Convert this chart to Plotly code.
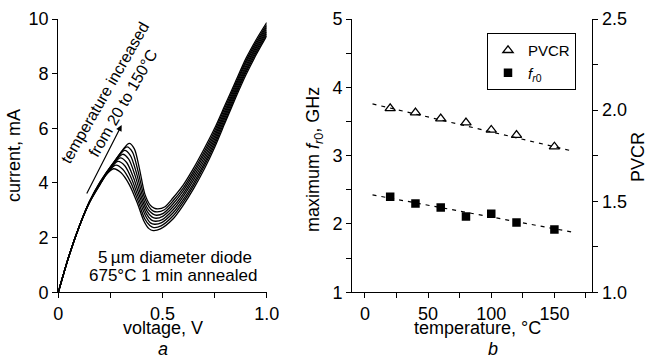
import plotly.graph_objects as go

W, H = 647, 359

# ---------------- panel a : I-V curves (8 temperatures, 20 -> 150 C) ----------------
v_c1 = [0, 0.05, 0.10, 0.15, 0.20, 0.230, 0.265, 0.300, 0.340, 0.380, 0.410, 0.435, 0.455, 0.490, 0.55, 0.60, 0.65, 0.70, 0.75, 0.80, 0.85, 0.90, 0.95, 1.00]
i_c1 = [0, 1.30, 2.40, 3.29, 3.94, 4.30, 4.52, 4.38, 3.95, 3.25, 2.62, 2.33, 2.26, 2.32, 2.68, 3.19, 3.80, 4.50, 5.30, 6.20, 7.10, 7.95, 8.70, 9.38]
v_c2 = [0, 0.05, 0.10, 0.15, 0.20, 0.236, 0.276, 0.309, 0.347, 0.385, 0.414, 0.439, 0.458, 0.493, 0.55, 0.60, 0.65, 0.70, 0.75, 0.80, 0.85, 0.90, 0.95, 1.00]
i_c2 = [0, 1.30, 2.40, 3.30, 3.95, 4.37, 4.65, 4.50, 4.03, 3.30, 2.70, 2.44, 2.37, 2.43, 2.79, 3.30, 3.91, 4.61, 5.40, 6.29, 7.19, 8.04, 8.78, 9.45]
v_c3 = [0, 0.05, 0.10, 0.15, 0.20, 0.242, 0.286, 0.319, 0.354, 0.390, 0.419, 0.442, 0.462, 0.496, 0.55, 0.60, 0.65, 0.70, 0.75, 0.80, 0.85, 0.90, 0.95, 1.00]
i_c3 = [0, 1.30, 2.40, 3.30, 3.97, 4.45, 4.79, 4.63, 4.11, 3.35, 2.79, 2.54, 2.49, 2.55, 2.90, 3.40, 4.01, 4.71, 5.50, 6.39, 7.27, 8.12, 8.86, 9.52]
v_c4 = [0, 0.05, 0.10, 0.15, 0.20, 0.248, 0.297, 0.328, 0.361, 0.395, 0.423, 0.446, 0.465, 0.499, 0.55, 0.60, 0.65, 0.70, 0.75, 0.80, 0.85, 0.90, 0.95, 1.00]
i_c4 = [0, 1.30, 2.40, 3.31, 3.98, 4.52, 4.92, 4.75, 4.19, 3.40, 2.87, 2.65, 2.60, 2.66, 3.01, 3.51, 4.12, 4.82, 5.60, 6.48, 7.36, 8.21, 8.94, 9.59]
v_c5 = [0, 0.05, 0.10, 0.15, 0.20, 0.254, 0.308, 0.337, 0.369, 0.400, 0.427, 0.449, 0.468, 0.501, 0.55, 0.60, 0.65, 0.70, 0.75, 0.80, 0.85, 0.90, 0.95, 1.00]
i_c5 = [0, 1.30, 2.40, 3.31, 3.99, 4.60, 5.05, 4.88, 4.26, 3.45, 2.95, 2.76, 2.71, 2.78, 3.12, 3.61, 4.23, 4.93, 5.70, 6.57, 7.44, 8.29, 9.01, 9.66]
v_c6 = [0, 0.05, 0.10, 0.15, 0.20, 0.260, 0.318, 0.346, 0.376, 0.405, 0.431, 0.453, 0.471, 0.504, 0.55, 0.60, 0.65, 0.70, 0.75, 0.80, 0.85, 0.90, 0.95, 1.00]
i_c6 = [0, 1.30, 2.40, 3.32, 4.00, 4.67, 5.19, 5.00, 4.34, 3.50, 3.03, 2.87, 2.82, 2.89, 3.23, 3.72, 4.34, 5.04, 5.80, 6.66, 7.53, 8.38, 9.09, 9.73]
v_c7 = [0, 0.05, 0.10, 0.15, 0.20, 0.266, 0.329, 0.356, 0.383, 0.410, 0.436, 0.456, 0.475, 0.507, 0.55, 0.60, 0.65, 0.70, 0.75, 0.80, 0.85, 0.90, 0.95, 1.00]
i_c7 = [0, 1.30, 2.40, 3.32, 4.02, 4.75, 5.32, 5.13, 4.42, 3.55, 3.12, 2.97, 2.94, 3.01, 3.34, 3.82, 4.44, 5.14, 5.90, 6.76, 7.61, 8.46, 9.17, 9.80]
v_c8 = [0, 0.05, 0.10, 0.15, 0.20, 0.272, 0.340, 0.365, 0.390, 0.415, 0.440, 0.460, 0.478, 0.510, 0.55, 0.60, 0.65, 0.70, 0.75, 0.80, 0.85, 0.90, 0.95, 1.00]
i_c8 = [0, 1.30, 2.40, 3.33, 4.03, 4.82, 5.45, 5.25, 4.50, 3.60, 3.20, 3.08, 3.05, 3.12, 3.45, 3.93, 4.55, 5.25, 6.00, 6.85, 7.70, 8.55, 9.25, 9.87]

iv_voltages = [v_c1, v_c2, v_c3, v_c4, v_c5, v_c6, v_c7, v_c8]
iv_currents = [i_c1, i_c2, i_c3, i_c4, i_c5, i_c6, i_c7, i_c8]

# ---------------- panel b : PVCR and f_r0 vs temperature ----------------
temperature = [20, 40, 60, 80, 100, 120, 150]
pvcr = [2.010, 1.986, 1.953, 1.931, 1.891, 1.863, 1.799]
fr0 = [2.40, 2.30, 2.24, 2.11, 2.15, 2.02, 1.92]
fit_temperature = [6, 164]
pvcr_fit = [2.034, 1.776]
fr0_fit = [2.426, 1.882]

FONT = "Liberation Sans, Arial, Helvetica, sans-serif"


def px(x):
    return x / W


def py(y):
    return 1 - y / H


fig = go.Figure()

for vv, ii in zip(iv_voltages, iv_currents):
    fig.add_trace(go.Scatter(x=vv, y=ii, mode="lines", xaxis="x", yaxis="y",
                             line=dict(color="black", width=1.3, shape="spline", smoothing=0.8),
                             showlegend=False, hoverinfo="skip"))

fig.add_trace(go.Scatter(x=fit_temperature, y=pvcr_fit, mode="lines", xaxis="x2", yaxis="y3",
                         line=dict(color="black", width=1.2, dash="4px,5px"), showlegend=False))
fig.add_trace(go.Scatter(x=fit_temperature, y=fr0_fit, mode="lines", xaxis="x2", yaxis="y2",
                         line=dict(color="black", width=1.2, dash="4px,5px"), showlegend=False))
fig.add_trace(go.Scatter(x=temperature, y=pvcr, mode="markers", xaxis="x2", yaxis="y3", name="PVCR",
                         marker=dict(symbol="triangle-up-open", size=9, color="black",
                                     line=dict(color="black", width=1.3))))
fig.add_trace(go.Scatter(x=temperature, y=fr0, mode="markers", xaxis="x2", yaxis="y2",
                         name="<i>f</i><sub><i>r</i>0</sub>",
                         marker=dict(symbol="square", size=8.5, color="black")))

axis_common = dict(showline=True, linecolor="black", linewidth=1.2, ticks="outside",
                   tickcolor="black", ticklen=5, tickwidth=1.2, showgrid=False, zeroline=False,
                   automargin=False,
                   tickfont=dict(family=FONT, size=18, color="black"))

minor_common = dict(ticks="outside", ticklen=5, tickcolor="black", tickwidth=1.2, showgrid=False)

dom_y = [py(292.3), py(19)]

fig.update_layout(
    width=W, height=H,
    margin=dict(l=0, r=0, t=0, b=0, autoexpand=False),
    paper_bgcolor="white", plot_bgcolor="white",
    font=dict(family=FONT, size=18, color="black"),
    xaxis=dict(domain=[px(58.3), px(266.7)], range=[0, 1], anchor="y",
               tickvals=[0, 0.5, 1.0], ticktext=["0", "0.5", "1.0"],
               minor=dict(tickvals=[0.25, 0.75], **minor_common),
               **axis_common),
    yaxis=dict(domain=dom_y, range=[0, 10], anchor="x", tickvals=[0, 2, 4, 6, 8, 10], **axis_common),
    xaxis2=dict(domain=[px(352.3), px(592.3)], range=[-10, 180], anchor="y2",
                tickvals=[0, 50, 100, 150],
                minor=dict(tickvals=[25, 75, 125, 175], **minor_common),
                **axis_common),
    yaxis2=dict(domain=dom_y, range=[1, 5], anchor="x2", tickvals=[1, 2, 3, 4, 5],
                minor=dict(tickvals=[1.5, 2.5, 3.5, 4.5], **minor_common),
                **axis_common),
    yaxis3=dict(range=[1, 2.5], anchor="x2", overlaying="y2", side="right",
                tickvals=[1.0, 1.5, 2.0, 2.5], ticktext=["1.0", "1.5", "2.0", "2.5"],
                minor=dict(tickvals=[1.25, 1.75, 2.25], **minor_common),
                **axis_common),
    showlegend=True,
    legend=dict(x=px(487), y=py(33), xanchor="left", yanchor="top",
                bordercolor="black", borderwidth=1, bgcolor="white",
                font=dict(family=FONT, size=15, color="black"),
                itemwidth=30, tracegroupgap=0),
)

ann = []


def text_at(x, y, s, size=18, angle=0, **kw):
    ann.append(dict(x=px(x), y=py(y), xref="paper", yref="paper", text=s, showarrow=False,
                    textangle=angle, xanchor="center", yanchor="middle",
                    font=dict(family=FONT, size=size, color="black"), **kw))


# axis titles
text_at(163.3, 328, "voltage, V")
text_at(163.3, 349, "<i>a</i>")
text_at(477, 328, "temperature, °C")
text_at(493, 349, "<i>b</i>")
text_at(14, 156, "current, mA", angle=-90)
text_at(315, 160, "maximum <i>f</i><sub><i>r</i>0</sub>, GHz", angle=-90)
text_at(638, 157, "PVCR", angle=-90)

# panel a notes
text_at(175, 257, "5\u2009µm diameter diode", size=17)
text_at(172.5, 275, "675°C 1 min annealed", size=17)
text_at(114, 98, "temperature increased<br>from 20 to 150°C", size=16, angle=-60)

fig.update_layout(annotations=ann)

# arrow in data coordinates of panel a
fig.add_annotation(x=0.304, y=6.12, ax=0.133, ay=3.56, xref="x", yref="y", axref="x", ayref="y",
                   showarrow=True, arrowhead=2, arrowsize=1, arrowwidth=1.2, arrowcolor="black", text="")

fig.write_html("out.html", config={"displayModeBar": False},
               post_script="document.body.style.margin='0';document.body.style.overflow='hidden';")
